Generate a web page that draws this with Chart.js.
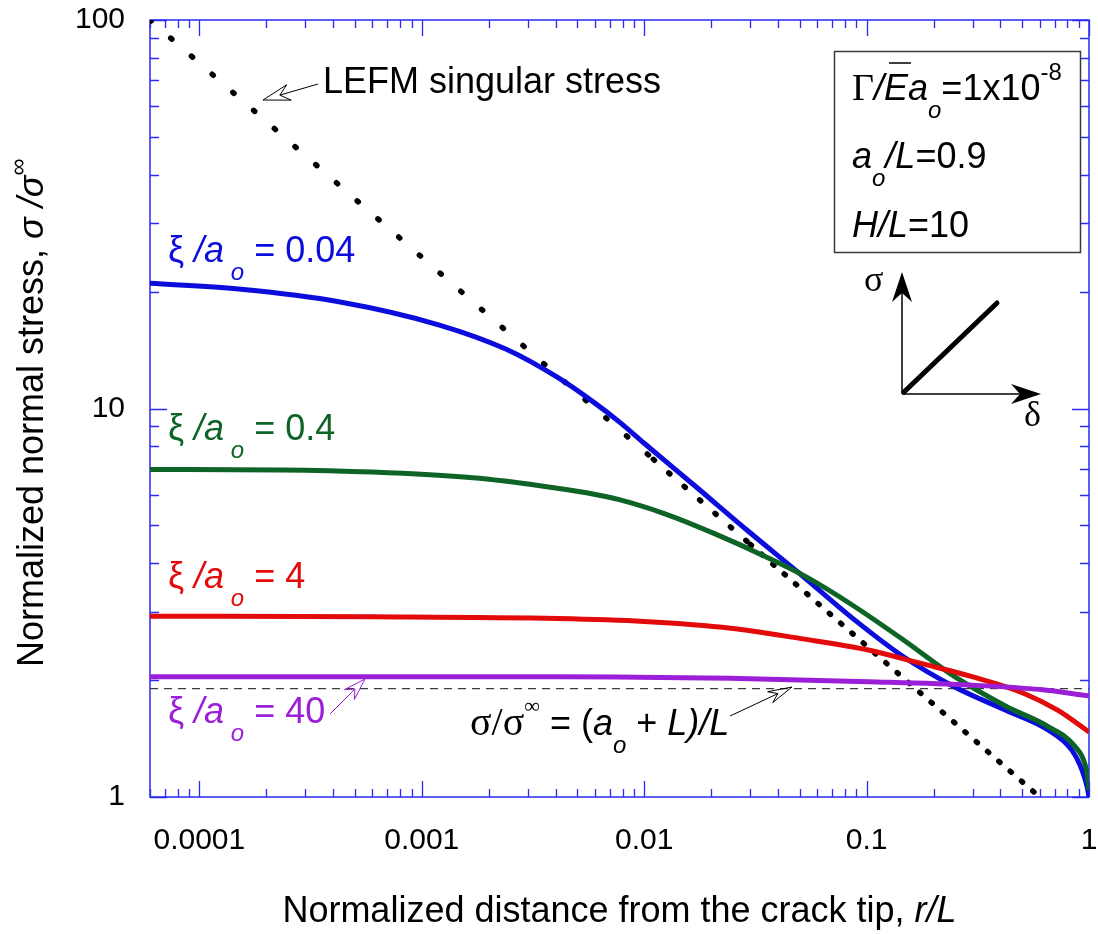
<!DOCTYPE html>
<html>
<head>
<meta charset="utf-8">
<title>Normalized normal stress ahead of the crack tip</title>
<script src="https://cdn.jsdelivr.net/npm/chart.js@4.4.1/dist/chart.umd.min.js"></script>
<style>
  html, body { margin: 0; padding: 0; background: #fff; }
  canvas { display: block; }
</style>
</head>
<body>
<canvas id="stressChart" width="1098" height="934"></canvas>
<script>
// [r/L, sigma/sigma_inf] pairs
const xi004 = [
    [6e-5, 21.0], [1.5e-4, 20.3], [4.3e-4, 18.8], [1.2e-3, 16.4], [2.4e-3, 14.2],
    [4.1e-3, 12.0], [5.9e-3, 10.4], [7.8e-3, 9.2], [0.01, 8.14], [0.0172, 6.27],
    [0.0294, 4.83], [0.05, 3.76], [0.0855, 2.90], [0.146, 2.30], [0.249, 1.92],
    [0.425, 1.67], [0.652, 1.49], [0.837, 1.32], [0.932, 1.17], [0.982, 1.06], [1.0, 1.0]
];
const xi04 = [
    [6e-5, 6.97], [2.3e-4, 6.95], [6e-4, 6.86], [1.7e-3, 6.63], [3.4e-3, 6.33],
    [5.5e-3, 6.07], [7.8e-3, 5.82], [0.0125, 5.35], [0.0206, 4.77], [0.035, 4.16],
    [0.0538, 3.68], [0.0855, 3.13], [0.146, 2.54], [0.249, 2.04], [0.425, 1.71],
    [0.652, 1.52], [0.864, 1.35], [0.965, 1.20], [0.99, 1.10], [1.0, 1.04]
];
const xi4 = [
    [6e-5, 2.92], [6e-4, 2.91], [4.1e-3, 2.88], [0.01, 2.83], [0.0245, 2.72],
    [0.05, 2.56], [0.102, 2.39], [0.174, 2.21], [0.298, 2.04], [0.508, 1.85],
    [0.726, 1.67], [1.0, 1.47]
];
const xi40 = [
    [6e-5, 2.04], [4.1e-3, 2.04], [0.0245, 2.02], [0.102, 1.98], [0.298, 1.94],
    [0.607, 1.89], [1.0, 1.82]
];
// LEFM singular stress (straight on log-log), split where the dot spacing changes
const lefmFar = [[6e-5, 100], [0.011, 7.4]];
const lefmMid = [[0.011, 7.4], [0.03, 4.47]];
const lefmNear = [[0.03, 4.47], [0.6, 1.0]];
// sigma/sigma_inf = (a_o + L)/L
const farField = [[6e-5, 1.9], [1.0, 1.9]];

const xTicks = [0.0001, 0.001, 0.01, 0.1, 1];
const xTickLabels = ['0.0001', '0.001', '0.01', '0.1', '1'];
const yTicks = [1, 10, 100];
const yTickLabels = ['1', '10', '100'];

const BLUE = '#0c0cdc';
const GREEN = '#0d6426';
const RED = '#e20a0a';
const PURPLE = '#9b1fd8';
const AXIS = '#2a2af2';

const SANS = '"Liberation Sans", Arial, Helvetica, sans-serif';
const SERIF = '"Liberation Serif", "Times New Roman", serif';
const font = (size, style = '', fam = SANS) => `${style} ${size}px ${fam}`.trim();

const curve = (pts, color, order) => ({
    data: pts.map(([x, y]) => ({ x, y })),
    borderColor: color,
    borderWidth: 5,
    pointRadius: 0,
    cubicInterpolationMode: 'monotone',
    fill: false,
    order
});

const dotted = (pts, gap) => ({
    data: pts.map(([x, y]) => ({ x, y })),
    borderColor: '#000',
    borderWidth: 5.5,
    borderDash: [1.5, gap],
    borderCapStyle: 'round',
    pointRadius: 0,
    fill: false,
    order: 7
});

// draws a run of text pieces with different fonts / offsets
function rich(ctx, x, y, runs, color) {
    ctx.fillStyle = color;
    ctx.textAlign = 'left';
    ctx.textBaseline = 'alphabetic';
    let cx = x;
    for (const r of runs) {
        ctx.font = r.f;
        ctx.fillText(r.t, cx, y + (r.dy || 0));
        const w = ctx.measureText(r.t).width;
        if (r.over) {
            ctx.save();
            ctx.strokeStyle = color;
            ctx.lineWidth = 1.5;
            ctx.beginPath();
            ctx.moveTo(cx + 5, y - 37);
            ctx.lineTo(cx + w + 3, y - 37);
            ctx.stroke();
            ctx.restore();
        }
        cx += w;
    }
    return cx;
}

function richWidth(ctx, runs) {
    let w = 0;
    for (const r of runs) { ctx.font = r.f; w += ctx.measureText(r.t).width; }
    return w;
}

function openArrow(ctx, x0, y0, x1, y1, color, len, half) {
    const a = Math.atan2(y1 - y0, x1 - x0);
    const ux = Math.cos(a), uy = Math.sin(a);
    const bx = x1 - ux * len, by = y1 - uy * len;
    const nx = x1 - ux * len * 0.65, ny = y1 - uy * len * 0.65;
    ctx.save();
    ctx.strokeStyle = color;
    ctx.lineWidth = 1;
    ctx.beginPath();
    ctx.moveTo(x0, y0);
    ctx.lineTo(nx, ny);
    ctx.moveTo(x1, y1);
    ctx.lineTo(bx - uy * half, by + ux * half);
    ctx.lineTo(nx, ny);
    ctx.lineTo(bx + uy * half, by - ux * half);
    ctx.closePath();
    ctx.stroke();
    ctx.restore();
}

function solidArrow(ctx, x0, y0, x1, y1, len, half) {
    const a = Math.atan2(y1 - y0, x1 - x0);
    const ux = Math.cos(a), uy = Math.sin(a);
    const bx = x1 - ux * len, by = y1 - uy * len;
    const nx = x1 - ux * len * 0.7, ny = y1 - uy * len * 0.7;
    ctx.beginPath();
    ctx.moveTo(x0, y0);
    ctx.lineTo(nx, ny);
    ctx.stroke();
    ctx.beginPath();
    ctx.moveTo(x1, y1);
    ctx.lineTo(bx - uy * half, by + ux * half);
    ctx.lineTo(nx, ny);
    ctx.lineTo(bx + uy * half, by - ux * half);
    ctx.closePath();
    ctx.fill();
}

function logSteps(min, max) {
    const out = [];
    for (let d = Math.floor(Math.log10(min)); d <= Math.ceil(Math.log10(max)); d++) {
        for (let k = 1; k <= 9; k++) {
            const v = k * Math.pow(10, d);
            if (v >= min * 0.999 && v <= max * 1.001) out.push([v, k === 1]);
        }
    }
    return out;
}

const framePlugin = {
    id: 'frame',
    beforeDatasetsDraw(chart) {
        const { ctx, chartArea: a, scales: { x, y } } = chart;
        ctx.save();
        ctx.strokeStyle = AXIS;
        ctx.lineWidth = 1.5;
        ctx.strokeRect(a.left, a.top, a.right - a.left, a.bottom - a.top);
        ctx.lineWidth = 1.3;
        ctx.beginPath();
        for (const [v, major] of logSteps(x.min, x.max)) {
            const px = Math.round(x.getPixelForValue(v)) + 0.5;
            const len = major ? 16 : 8;
            ctx.moveTo(px, a.bottom); ctx.lineTo(px, a.bottom - len);
            ctx.moveTo(px, a.top); ctx.lineTo(px, a.top + len);
        }
        for (const [v, major] of logSteps(y.min, y.max)) {
            const py = Math.round(y.getPixelForValue(v)) + 0.5;
            const len = major ? 17 : 9;
            ctx.moveTo(a.left, py); ctx.lineTo(a.left + len, py);
            ctx.moveTo(a.right, py); ctx.lineTo(a.right - len, py);
        }
        ctx.stroke();
        ctx.restore();
    }
};

const notesPlugin = {
    id: 'notes',
    afterDraw(chart) {
        const { ctx, chartArea: a } = chart;
        ctx.save();

        // axis titles
        const xTitle = [
            { t: 'Normalized distance from the crack tip, ', f: font(36) },
            { t: 'r/L', f: font(36, 'italic') }
        ];
        const cx = (a.left + a.right) / 2;
        rich(ctx, cx - richWidth(ctx, xTitle) / 2, 922, xTitle, '#000');

        ctx.save();
        ctx.translate(43, 667);
        ctx.rotate(-Math.PI / 2);
        rich(ctx, 0, 0, [
            { t: 'Normalized normal stress, ', f: font(36) },
            { t: 'σ /σ', f: font(36, 'italic') },
            { t: '∞', f: font(24), dy: -17 }
        ], '#000');
        ctx.restore();

        // curve labels
        const xiRuns = val => [
            { t: 'ξ ', f: font(36) },
            { t: '/a', f: font(36, 'italic') },
            { t: ' o', f: font(24, 'italic'), dy: 18 },
            { t: ' = ' + val, f: font(36) }
        ];
        rich(ctx, 168, 262, xiRuns('0.04'), BLUE);
        rich(ctx, 168, 440, xiRuns('0.4'), GREEN);
        rich(ctx, 168, 588, xiRuns('4'), RED);
        rich(ctx, 168, 723, xiRuns('40'), PURPLE);
        openArrow(ctx, 330, 714, 365, 679, PURPLE, 22, 7);

        // LEFM label
        rich(ctx, 323, 93, [{ t: 'LEFM singular stress', f: font(36) }], '#000');
        openArrow(ctx, 318, 84, 263, 100, '#000', 27, 8);

        // far field label
        rich(ctx, 470, 735, [
            { t: 'σ/σ', f: font(40, '', SERIF) },
            { t: '∞', f: font(22, '', SERIF), dy: -22 },
            { t: ' = (', f: font(36) },
            { t: 'a', f: font(36, 'italic') },
            { t: 'o', f: font(24, 'italic'), dy: 18 },
            { t: ' + ', f: font(36) },
            { t: 'L)/L', f: font(36, 'italic') }
        ], '#000');
        openArrow(ctx, 730, 716, 792, 687, '#000', 24, 6);

        // parameter box
        ctx.strokeStyle = '#3a3a3a';
        ctx.lineWidth = 1.5;
        ctx.strokeRect(834.5, 51.5, 246, 201);
        rich(ctx, 852, 100, [
            { t: 'Γ', f: font(38, '', SERIF) },
            { t: '/', f: font(36, 'italic') },
            { t: 'E', f: font(36, 'italic'), over: true },
            { t: 'a', f: font(36, 'italic') },
            { t: 'o', f: font(24, 'italic'), dy: 18 },
            { t: '=1x10', f: font(36) },
            { t: '-8', f: font(24), dy: -20 }
        ], '#000');
        rich(ctx, 852, 168, [
            { t: 'a', f: font(36, 'italic') },
            { t: 'o', f: font(24, 'italic'), dy: 18 },
            { t: '/L', f: font(36, 'italic') },
            { t: '=0.9', f: font(36) }
        ], '#000');
        rich(ctx, 852, 237, [
            { t: 'H/L', f: font(36, 'italic') },
            { t: '=10', f: font(36) }
        ], '#000');

        // traction-separation sketch
        ctx.strokeStyle = '#000';
        ctx.fillStyle = '#000';
        ctx.lineWidth = 1.5;
        solidArrow(ctx, 902, 394, 902, 272, 30, 10);
        solidArrow(ctx, 902, 394, 1041, 394, 30, 10);
        ctx.lineWidth = 5;
        ctx.lineCap = 'round';
        ctx.beginPath();
        ctx.moveTo(904, 392);
        ctx.lineTo(997, 303);
        ctx.stroke();
        rich(ctx, 864, 291, [{ t: 'σ', f: font(36, '', SERIF) }], '#000');
        rich(ctx, 1024, 426, [{ t: 'δ', f: font(36, '', SERIF) }], '#000');

        ctx.restore();
    }
};

new Chart(document.getElementById('stressChart'), {
    type: 'line',
    data: {
        datasets: [
            curve(xi40, PURPLE, 1),
            curve(xi4, RED, 2),
            curve(xi04, GREEN, 3),
            curve(xi004, BLUE, 4),
            {
                data: farField.map(([x, y]) => ({ x, y })),
                borderColor: '#3c3c3c',
                borderWidth: 1.3,
                borderDash: [8, 6],
                pointRadius: 0,
                order: 6
            },
            dotted(lefmFar, 26),
            dotted(lefmMid, 19),
            dotted(lefmNear, 13.5)
        ]
    },
    options: {
        responsive: false,
        animation: false,
        devicePixelRatio: 1,
        layout: { padding: { top: 20, right: 9, left: 0, bottom: 0 } },
        plugins: { legend: { display: false }, tooltip: { enabled: false } },
        scales: {
            x: {
                type: 'logarithmic',
                min: 6e-5,
                max: 1,
                afterBuildTicks: s => { s.ticks = xTicks.map(value => ({ value })); },
                afterFit: s => {
                    s.height = 137;
                    s.paddingLeft = 0;
                    s.paddingRight = 0;
                },
                grid: { display: false },
                border: { display: false },
                ticks: {
                    autoSkip: false,
                    maxRotation: 0,
                    padding: 18,
                    color: '#000',
                    font: { family: SANS, size: 30 },
                    callback: v => xTickLabels[xTicks.indexOf(v)]
                }
            },
            y: {
                type: 'logarithmic',
                min: 1,
                max: 100,
                afterBuildTicks: s => { s.ticks = yTicks.map(value => ({ value })); },
                afterFit: s => {
                    s.width = 150;
                    s.paddingTop = 0;
                    s.paddingBottom = 0;
                },
                grid: { display: false },
                border: { display: false },
                ticks: {
                    autoSkip: false,
                    padding: 17,
                    color: '#000',
                    font: { family: SANS, size: 30 },
                    callback: v => yTickLabels[yTicks.indexOf(v)]
                }
            }
        }
    },
    plugins: [framePlugin, notesPlugin]
});
</script>
</body>
</html>
